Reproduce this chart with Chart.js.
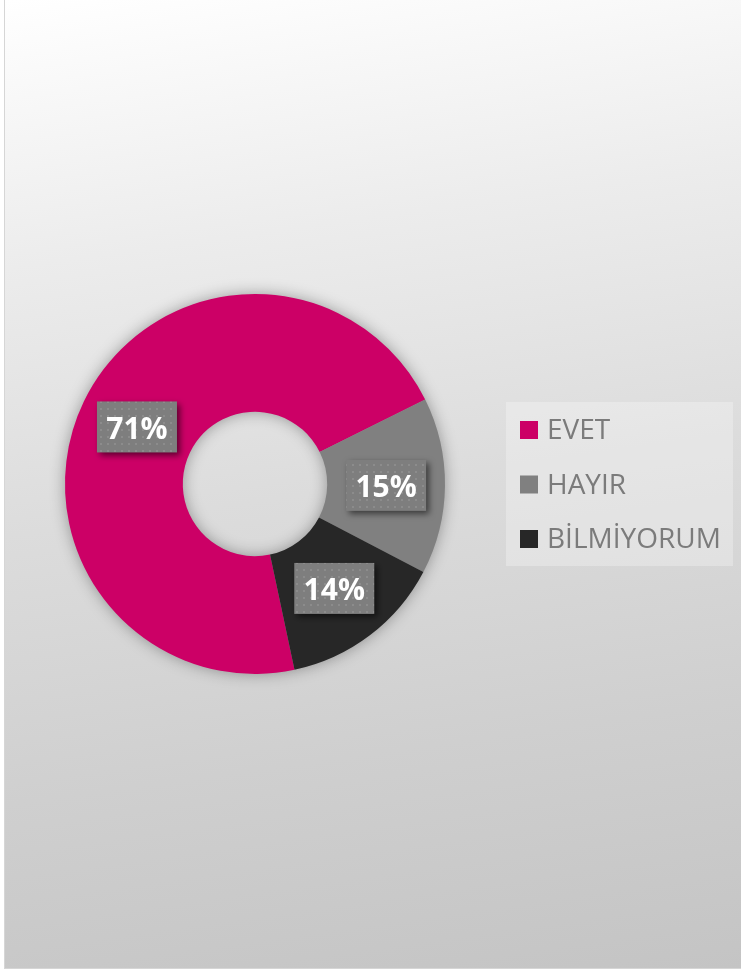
<!DOCTYPE html>
<html lang="tr">
<head>
    <meta charset="UTF-8">
    <title>EVET / HAYIR / BİLMİYORUM</title>
    <script src="https://cdn.jsdelivr.net/npm/chart.js"></script>
    <style>
        html, body { margin: 0; padding: 0; background: #ffffff; overflow: hidden; }
        .frame {
            position: absolute; left: 4px; top: -1px; width: 745px; height: 968px;
            border: 1px solid #d6d6d6;
            background: linear-gradient(172deg, #ffffff 0%, #ececec 25%, #dcdcdc 50%, #cfcfcf 75%, #c4c4c4 100%);
        }
        canvas { position: absolute; left: 0; top: 0; }
    </style>
</head>
<body>
    <div class="frame"></div>
    <canvas id="donut" width="741" height="970"></canvas>
    <script>
        const labels = ['EVET', 'HAYIR', 'BİLMİYORUM'];
        const values = [71, 15, 14];
        const colors = ['#cc0066', '#808080', '#272727'];

        const FONT = '"Open Sans", sans-serif';

        // dotted fill used behind the percentage labels
        function dotPattern(ctx) {
            const p = document.createElement('canvas');
            p.width = 7; p.height = 7;
            const pc = p.getContext('2d');
            pc.fillStyle = '#7e7e7e';
            pc.fillRect(0, 0, 7, 7);
            pc.fillStyle = '#8c8c8c';
            pc.fillRect(2, 2, 2, 2);
            return ctx.createPattern(p, 'repeat');
        }

        // soft shadow around the ring, drawn before the arcs
        const ringShadow = {
            id: 'ringShadow',
            beforeDatasetsDraw(chart) {
                const arc = chart.getDatasetMeta(0).data[0];
                if (!arc) return;
                const { x, y, outerRadius, innerRadius } = arc.getProps(['x', 'y', 'outerRadius', 'innerRadius'], true);
                const ctx = chart.ctx;
                ctx.save();
                ctx.shadowColor = 'rgba(0,0,0,0.38)';
                ctx.shadowBlur = 16;
                ctx.fillStyle = '#999';
                ctx.beginPath();
                ctx.arc(x, y, outerRadius - 1, 0, Math.PI * 2);
                ctx.arc(x, y, innerRadius + 1, 0, Math.PI * 2, true);
                ctx.fill();
                ctx.restore();
            }
        };

        // percentage boxes at the middle of each slice
        const sliceLabels = {
            id: 'sliceLabels',
            afterDatasetsDraw(chart) {
                const ctx = chart.ctx;
                const total = values.reduce((a, b) => a + b, 0);
                const pattern = dotPattern(ctx);
                chart.getDatasetMeta(0).data.forEach((arc, i) => {
                    const pos = arc.tooltipPosition(true);
                    const text = Math.round(values[i] / total * 100) + '%';
                    const w = 80, h = 51;
                    ctx.save();
                    ctx.shadowColor = 'rgba(0,0,0,0.55)';
                    ctx.shadowBlur = 6;
                    ctx.shadowOffsetX = 3;
                    ctx.shadowOffsetY = 3;
                    ctx.fillStyle = pattern;
                    ctx.fillRect(pos.x - w / 2, pos.y - h / 2, w, h);
                    ctx.restore();
                    ctx.save();
                    ctx.fillStyle = '#ffffff';
                    ctx.font = 'bold 30px ' + FONT;
                    ctx.textAlign = 'center';
                    ctx.textBaseline = 'alphabetic';
                    ctx.fillText(text, pos.x, pos.y + 12);
                    ctx.restore();
                });
            }
        };

        // legend on the right with its own light panel
        const sideLegend = {
            id: 'sideLegend',
            afterDraw(chart) {
                const ctx = chart.ctx;
                ctx.save();
                ctx.fillStyle = 'rgba(255,255,255,0.28)';
                ctx.fillRect(506, 402, 227, 164);
                ctx.font = '28px ' + FONT;
                ctx.textBaseline = 'alphabetic';
                ctx.textAlign = 'left';
                labels.forEach((lab, i) => {
                    const top = 421 + i * 54.5;
                    ctx.fillStyle = colors[i];
                    ctx.fillRect(520, top, 18, 18);
                    ctx.fillStyle = '#7b7b7b';
                    ctx.fillText(lab, 547, top + 18);
                });
                ctx.restore();
            }
        };

        new Chart(document.getElementById('donut'), {
            type: 'doughnut',
            data: {
                labels: labels,
                datasets: [{
                    data: values,
                    backgroundColor: colors,
                    borderWidth: 0,
                    hoverOffset: 0,
                    offset: 0
                }]
            },
            options: {
                responsive: false,
                animation: false,
                rotation: 168,
                cutout: '38%',
                layout: { padding: { left: 65, right: 296, top: 294, bottom: 296 } },
                plugins: {
                    legend: { display: false },
                    tooltip: { enabled: false }
                }
            },
            plugins: [ringShadow, sliceLabels, sideLegend]
        });
    </script>
</body>
</html>
